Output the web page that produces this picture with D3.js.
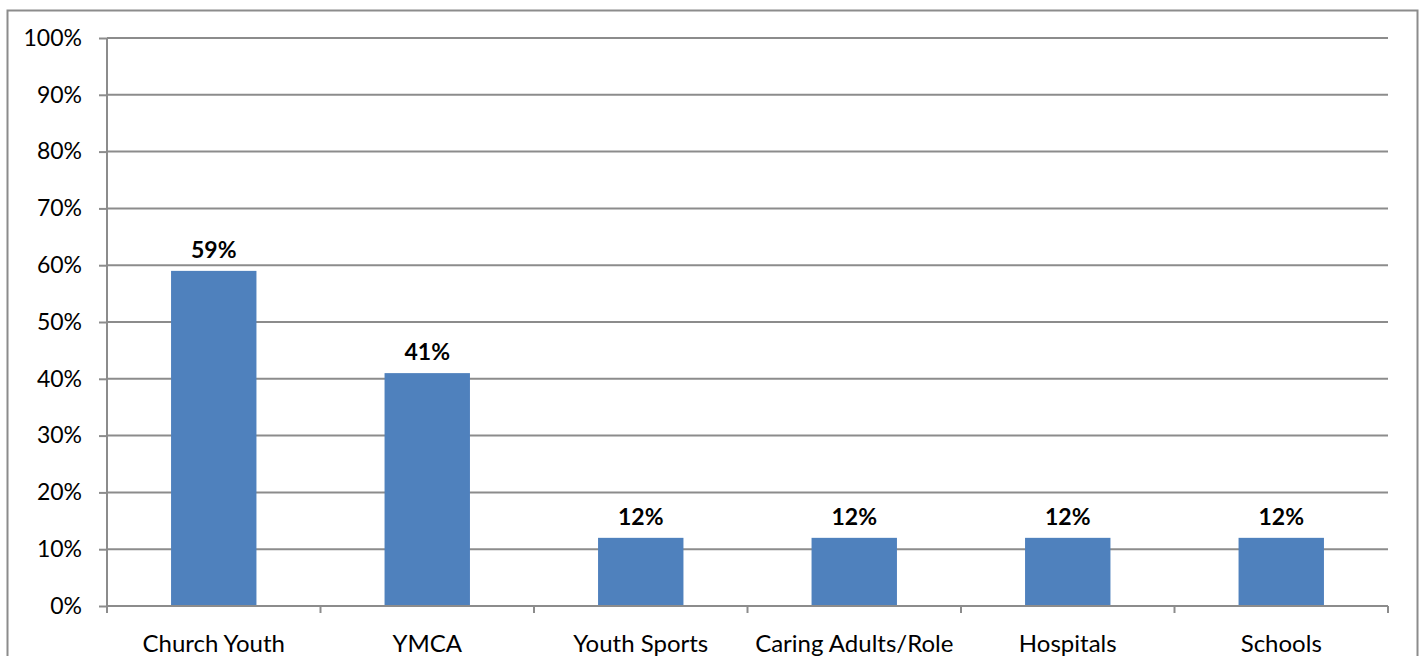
<!DOCTYPE html>
<html>
<head>
<meta charset="utf-8">
<script src="https://cdn.jsdelivr.net/npm/d3@7"></script>
<style>
  body { margin: 0; background: #fff; }
  svg { display: block; font-family: Lato, "Open Sans", sans-serif; }
</style>
</head>
<body>
<svg id="chart" width="1423" height="656"></svg>
<script>
// Data
const categories = ['Church Youth', 'YMCA', 'Youth Sports', 'Caring Adults/Role', 'Hospitals', 'Schools'];
const values = [59, 41, 12, 12, 12, 12];
const yTicks = [0, 10, 20, 30, 40, 50, 60, 70, 80, 90, 100];

const svg = d3.select('#chart');
const plot = { left: 107, right: 1388, top: 38, bottom: 606 };

// outer frame
svg.append('rect')
  .attr('x', 7.5).attr('y', 10.5)
  .attr('width', 1410).attr('height', 660)
  .attr('fill', 'none').attr('stroke', '#8c8c8c').attr('stroke-width', 2);

const x = d3.scaleBand()
  .domain(categories)
  .range([plot.left, plot.right])
  .paddingInner(0.6).paddingOuter(0.3);

const y = d3.scaleLinear().domain([0, 100]).range([plot.bottom, plot.top]);

// gridlines
svg.append('g').selectAll('line')
  .data(yTicks.filter(d => d > 0))
  .join('line')
  .attr('x1', plot.left).attr('x2', plot.right)
  .attr('y1', d => y(d)).attr('y2', d => y(d))
  .attr('stroke', '#8c8c8c').attr('stroke-width', 2);

// y axis
const yAxis = svg.append('g')
  .attr('transform', `translate(${plot.left},0)`)
  .call(d3.axisLeft(y).tickValues(yTicks).tickSize(8).tickPadding(17).tickFormat(d => d + '%'));
yAxis.select('.domain').attr('stroke', '#8c8c8c').attr('stroke-width', 2).attr('d', `M0,${plot.top}V${plot.bottom}`);
yAxis.selectAll('.tick line').attr('stroke', '#8c8c8c').attr('stroke-width', 2);
yAxis.selectAll('.tick text')
  .attr('font-size', 23).attr('fill', '#000').attr('font-family', 'Lato, "Open Sans", sans-serif');

// bars
svg.append('g').selectAll('rect')
  .data(values)
  .join('rect')
  .attr('x', (d, i) => x(categories[i]))
  .attr('y', d => y(d))
  .attr('width', x.bandwidth())
  .attr('height', d => plot.bottom - y(d))
  .attr('fill', '#4f81bd');

// x axis
const step = x.step();
const bounds = d3.range(categories.length + 1).map(i => plot.left + i * step);
svg.append('line')
  .attr('x1', plot.left).attr('x2', plot.right)
  .attr('y1', plot.bottom).attr('y2', plot.bottom)
  .attr('stroke', '#8c8c8c').attr('stroke-width', 2);
svg.append('g').selectAll('line')
  .data(bounds)
  .join('line')
  .attr('x1', d => d).attr('x2', d => d)
  .attr('y1', plot.bottom).attr('y2', plot.bottom + 7)
  .attr('stroke', '#8c8c8c').attr('stroke-width', 2);

svg.append('g').selectAll('text')
  .data(categories)
  .join('text')
  .attr('x', d => x(d) + x.bandwidth() / 2)
  .attr('y', 652)
  .attr('text-anchor', 'middle')
  .attr('font-size', 24)
  .attr('fill', '#000')
  .text(d => d);

// data labels
svg.append('g').selectAll('text')
  .data(values)
  .join('text')
  .attr('x', (d, i) => x(categories[i]) + x.bandwidth() / 2)
  .attr('y', d => y(d) - 13)
  .attr('text-anchor', 'middle')
  .attr('font-size', 23)
  .attr('font-weight', 'bold')
  .attr('fill', '#000')
  .text(d => d + '%');
</script>
</body>
</html>
